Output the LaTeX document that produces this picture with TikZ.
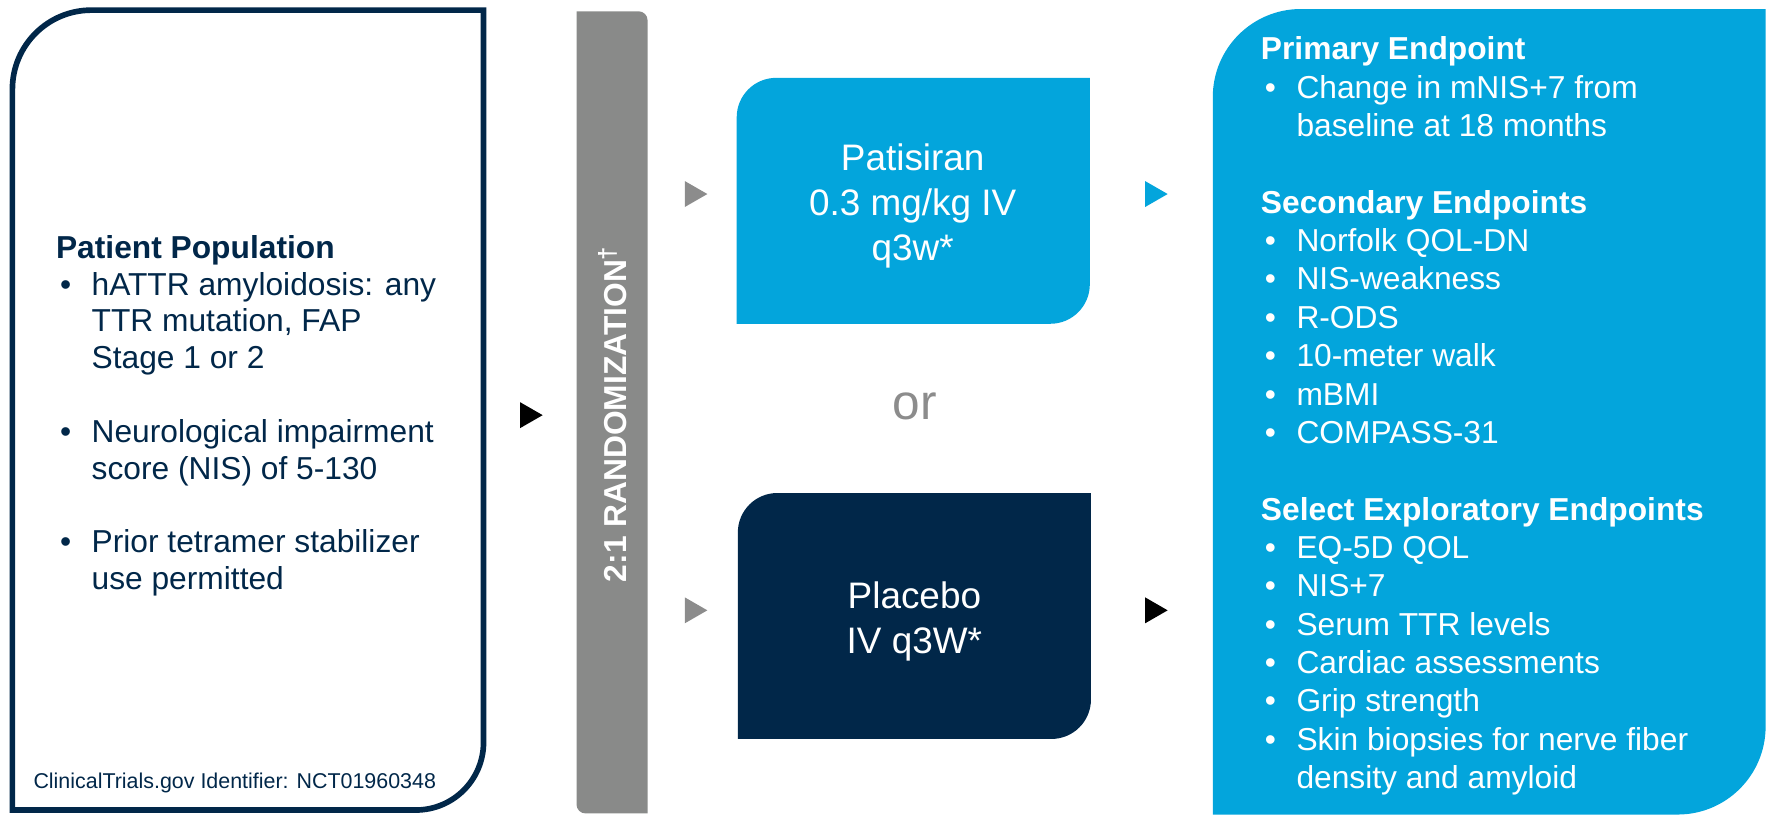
\documentclass[tikz,border=0pt]{standalone}
\usepackage{fontspec}
\setmainfont{Liberation Sans}
\definecolor{navy}{RGB}{1,39,73}
\definecolor{cyanblue}{RGB}{3,165,220}
\definecolor{bargray}{RGB}{137,138,137}
\definecolor{arrgray}{RGB}{140,140,140}
\newcommand{\itm}{\hspace*{0.35mm}\makebox[2.8mm][l]{\textbullet}}
\newcommand{\cnt}{\hspace*{3.15mm}}
\newcommand{\tri}[3]{\fill[#1] (#2,#3) ++(-10,-11.5) -- ++(20,11.5) -- ++(-20,11.5) -- cycle;}

\begin{document}
\begin{tikzpicture}[x=0.01cm,y=-0.01cm]
\tikzset{txt/.style={inner sep=0pt, anchor=base west},
  armtxt/.style={inner sep=0pt, align=center, text=white, font=\fontsize{9.3}{11.38}\selectfont}}
\useasboundingbox (0,0) rectangle (1568,722);
\draw[navy, line width=0.05cm] (11,718) -- (11,79) arc[start angle=180, end angle=270, radius=70] -- (428.6,9) -- (428.6,658) arc[start angle=0, end angle=90, radius=60] -- cycle;
\fill[bargray] (511,10) -- (566,10) arc[start angle=270, end angle=360, radius=8] -- (574,721) -- (519,721) arc[start angle=90, end angle=180, radius=8] -- cycle;
\fill[cyanblue] (653,287) -- (653,104) arc[start angle=180, end angle=270, radius=35] -- (966,69) -- (966,252) arc[start angle=0, end angle=90, radius=35] -- cycle;
\fill[navy] (654,655) -- (654,472) arc[start angle=180, end angle=270, radius=35] -- (967,437) -- (967,620) arc[start angle=0, end angle=90, radius=35] -- cycle;
\fill[cyanblue] (1075,722) -- (1075,86) arc[start angle=180, end angle=270, radius=78] -- (1565,8) -- (1565,644) arc[start angle=0, end angle=90, radius=78] -- cycle;
\node[txt, text=navy, font=\fontsize{8}{9.28}\selectfont] (popu) at (49,229) {\begin{tabular}[t]{@{}l@{}}
\textbf{Patient Population}\\
\itm hATTR amyloidosis: any\\
\cnt TTR mutation, FAP\\
\cnt Stage 1 or 2\\
\\
\itm Neurological impairment\\
\cnt score (NIS) of 5-130\\
\\
\itm Prior tetramer stabilizer\\
\cnt use permitted
\end{tabular}};
\node[txt, text=navy, font=\fontsize{5.4}{6.5}\selectfont] (clin) at (29,698.6) {ClinicalTrials.gov Identifier: NCT01960348};
\node[rotate=90, inner sep=0pt, text=white, font=\bfseries\fontsize{8}{9.6}\selectfont] (rando) at (543,366.5) {2:1 RANDOMIZATION\textsuperscript{\textdagger}};
\node[armtxt] (pati) at (809,182.3) {Patisiran\\0.3 mg/kg IV\\q3w*};
\node[armtxt] (plac) at (810.5,550.7) {Placebo\\IV q3W*};
\node[anchor=base, inner sep=0pt, text=arrgray, font=\fontsize{12.5}{15}\selectfont] (ou) at (811,372) {or};
\node[txt, text=white, font=\fontsize{8}{9.67}\selectfont] (endp) at (1117,53) {\begin{tabular}[t]{@{}l@{}}
\textbf{Primary Endpoint}\\
\itm Change in mNIS+7 from\\
\cnt baseline at 18 months\\
\\
\textbf{Secondary Endpoints}\\
\itm Norfolk QOL-DN\\
\itm NIS-weakness\\
\itm R-ODS\\
\itm 10-meter walk\\
\itm mBMI\\
\itm COMPASS-31\\
\\
\textbf{Select Exploratory Endpoints}\\
\itm EQ-5D QOL\\
\itm NIS+7\\
\itm Serum TTR levels\\
\itm Cardiac assessments\\
\itm Grip strength\\
\itm Skin biopsies for nerve fiber\\
\cnt density and amyloid
\end{tabular}};
\tri{black}{471}{368}
\tri{arrgray}{617}{172}
\tri{arrgray}{617}{541}
\tri{cyanblue}{1025}{172}
\tri{black}{1025}{541}
\end{tikzpicture}
\end{document}
